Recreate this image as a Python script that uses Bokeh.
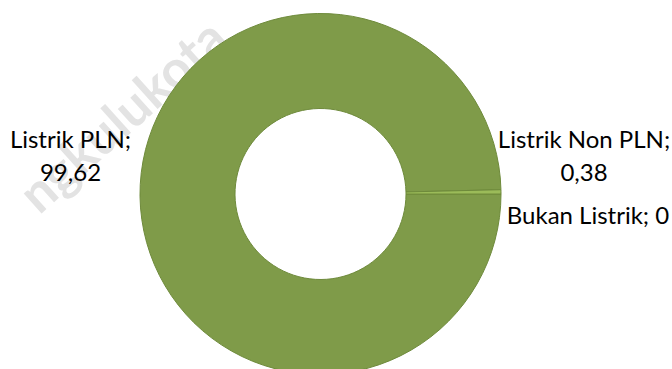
import math
from bokeh.plotting import figure
from bokeh.models import Range1d, ColumnDataSource
from bokeh.core.properties import value
from bokeh.embed import file_html
from bokeh.resources import INLINE

# ---- data ----
categories = ["Listrik PLN", "Listrik Non PLN", "Bukan Listrik"]
values = [99.62, 0.38, 0.0]
colors = ["#7F9B49", "#9BBB59", "#B5CC85"]
watermark = "ngkulukota"

W, H = 672, 369
p = figure(width=W, height=H, output_backend="svg", toolbar_location=None,
           x_range=Range1d(0, W), y_range=Range1d(0, H), min_border=0)
p.axis.visible = False
p.grid.visible = False
p.outline_line_color = None
p.background_fill_color = "white"
p.border_fill_color = "white"

# watermark (behind everything)
p.text(x=[121], y=[H - 114], text=[watermark], angle=math.radians(42),
       text_align="center", text_baseline="middle",
       text_font=value("Lato"), text_font_style="bold", text_font_size="52px",
       text_color="#e3e3e3")

# donut: first slice starts at 3 o'clock, going clockwise
total = sum(values)
cx, cy = 320, H - 193.5
xs, ys, starts, ends, cols, cats = [], [], [], [], [], []
cum = 0.0
for c, v, col in zip(categories, values, colors):
    a0 = -cum / total * 2 * math.pi
    cum += v
    a1 = -cum / total * 2 * math.pi
    if v <= 0:
        continue  # zero slice draws nothing
    xs.append(cx); ys.append(cy)
    starts.append(a1); ends.append(a0)
    cols.append(col); cats.append(c)
src = ColumnDataSource(dict(x=xs, y=ys, start=starts, end=ends,
                            color=cols, cat=cats))
p.annular_wedge(x="x", y="y", inner_radius=85.5, outer_radius=180.5,
                inner_radius_units="screen", outer_radius_units="screen",
                start_angle="start", end_angle="end", direction="anticlock",
                fill_color="color", line_color="#6E8A3B", line_width=1,
                source=src)

def fmt(v):
    s = ("%.2f" % v).rstrip("0").rstrip(".")
    return s.replace(".", ",")

font = value("Lato")
fs = "24px"
# label for Listrik PLN (two lines)
p.text(x=[70, 70], y=[H - 138, H - 172],
       text=[categories[0] + ";", fmt(values[0])],
       text_align="center", text_baseline="middle",
       text_font=font, text_font_size=fs, text_color="#000000")
# label for Listrik Non PLN (two lines)
p.text(x=[583.5, 583.5], y=[H - 138, H - 172],
       text=[categories[1] + ";", fmt(values[1])],
       text_align="center", text_baseline="middle",
       text_font=font, text_font_size=fs, text_color="#000000")
# label for Bukan Listrik (one line)
p.text(x=[587.5], y=[H - 214],
       text=[categories[2] + "; " + fmt(values[2])],
       text_align="center", text_baseline="middle",
       text_font=font, text_font_size=fs, text_color="#000000")

open("out.html", "w").write(file_html(p, INLINE))
